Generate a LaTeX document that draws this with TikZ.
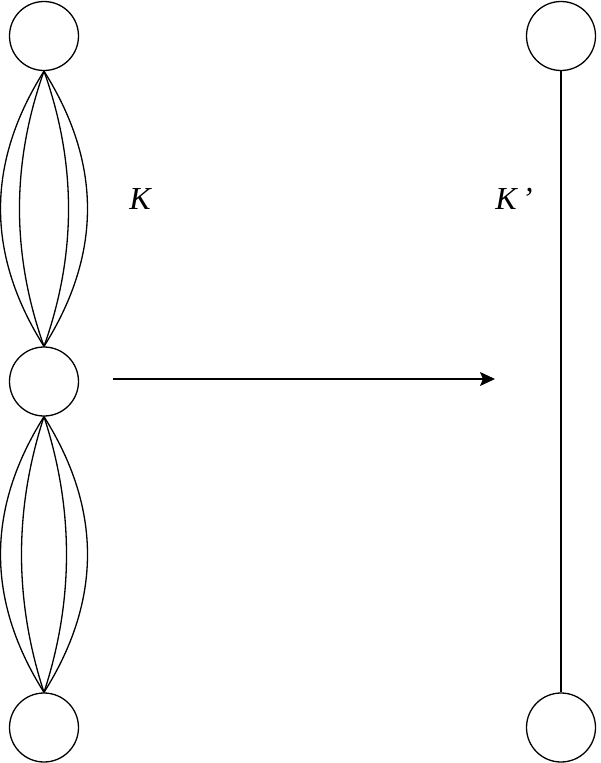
\documentclass[tikz,border=0pt]{standalone}
\usepackage{fontspec}
\setmainfont{Liberation Serif}
\usetikzlibrary{arrows.meta}
\begin{document}
\begin{tikzpicture}[x=1pt,y=-1pt,
  vtx/.style={circle,draw,line width=1.3pt,minimum size=69pt,inner sep=0pt},
  edge/.style={line width=1.3pt},
  lbl/.style={font=\fontsize{32}{38}\selectfont\itshape,inner sep=0pt}]
\useasboundingbox (0,0) rectangle (600,763);
\node[vtx] (L1) at (44,36) {};
\node[vtx] (L2) at (44,381.5) {};
\node[vtx] (L3) at (44,727.5) {};
\node[vtx] (R1) at (561,36) {};
\node[vtx] (R2) at (561,727.5) {};
% top lens
\draw[edge] (L1.south) .. controls +(-58,92) and +(-58,-92) .. (L2.north);
\draw[edge] (L1.south) .. controls +(-32.7,92) and +(-32.7,-92) .. (L2.north);
\draw[edge] (L1.south) .. controls +(32.7,92) and +(32.7,-92) .. (L2.north);
\draw[edge] (L1.south) .. controls +(58,92) and +(58,-92) .. (L2.north);
% bottom lens
\draw[edge] (L2.south) .. controls +(-58,92) and +(-58,-92) .. (L3.north);
\draw[edge] (L2.south) .. controls +(-30,92) and +(-30,-92) .. (L3.north);
\draw[edge] (L2.south) .. controls +(30,92) and +(30,-92) .. (L3.north);
\draw[edge] (L2.south) .. controls +(58,92) and +(58,-92) .. (L3.north);
% right edge
\draw[edge] (R1.south) -- (R2.north);
% arrow
\coordinate (a1) at (113,379);
\coordinate (a2) at (495,379);
\draw[edge,-{Stealth[length=15pt,width=14pt,inset=3pt]}] (a1) -- (a2);
% labels
\node[lbl] (k1) at (140,199) {K};
\node[lbl] (k2) at (514,199) {K\,’};
\end{tikzpicture}
\end{document}
